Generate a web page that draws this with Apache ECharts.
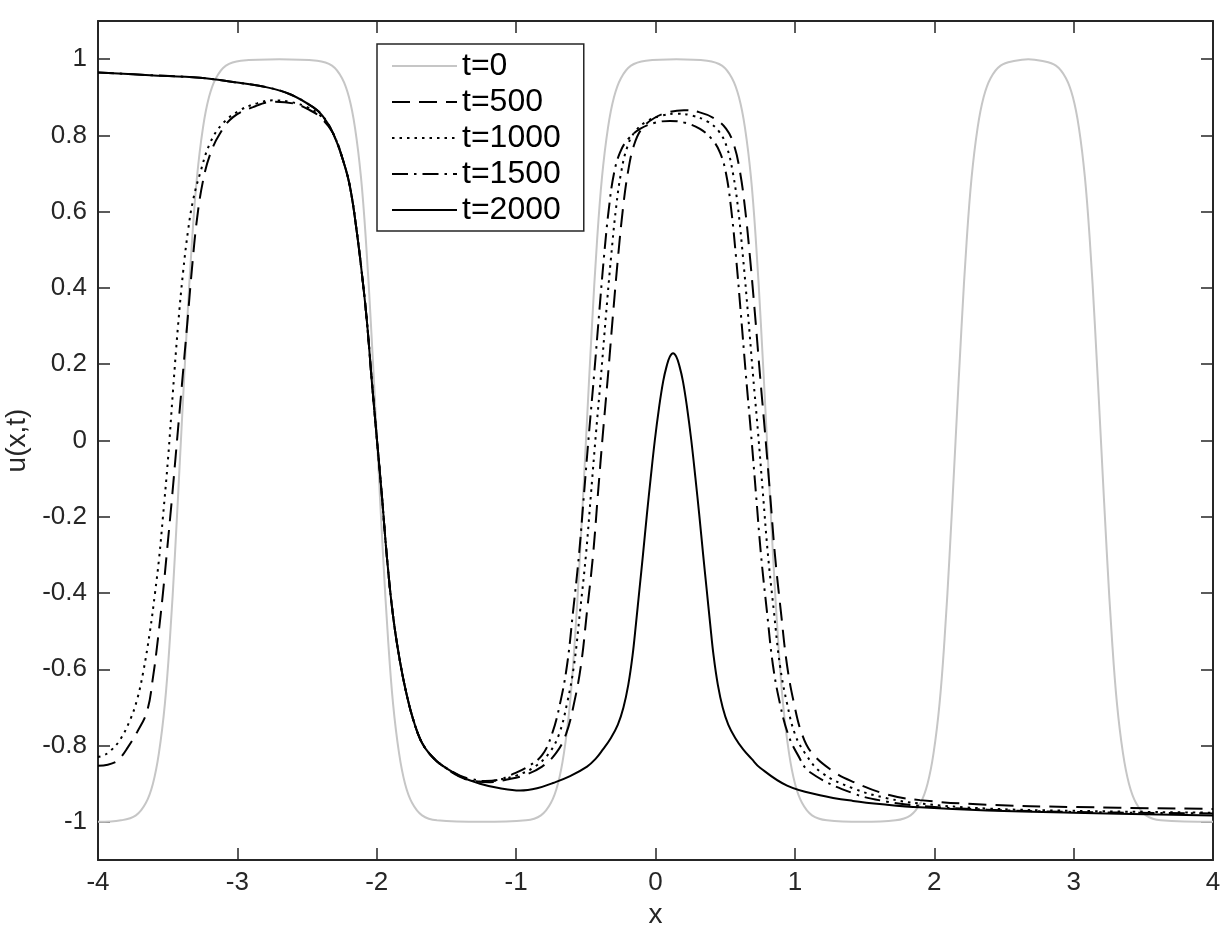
<!DOCTYPE html>
<html>
<head>
<meta charset="utf-8">
<title>u(x,t)</title>
<script src="https://cdn.jsdelivr.net/npm/echarts@6/dist/echarts.min.js"></script>
<style>
  html, body { margin: 0; padding: 0; background: #fff; }
  #chart { width: 1231px; height: 933px; }
</style>
</head>
<body>
<div id="chart"></div>
<script>
// tick labels
const yTicks = [-1, -0.8, -0.6, -0.4, -0.2, 0, 0.2, 0.4, 0.6, 0.8, 1];
const seriesNames = ['t=0', 't=500', 't=1000', 't=1500', 't=2000'];

// [x, u] points
const t0 = [
  [-4, -1], [-3.835, -0.996], [-3.728, -0.983], [-3.656, -0.95], [-3.606, -0.9], [-3.563, -0.82],
  [-3.52, -0.69], [-3.484, -0.52], [-3.448, -0.3], [-3.405, 0], [-3.362, 0.3], [-3.326, 0.52],
  [-3.29, 0.69], [-3.247, 0.82], [-3.204, 0.9], [-3.154, 0.95], [-3.082, 0.983], [-2.975, 0.996],
  [-2.7, 1], [-2.428, 0.996], [-2.321, 0.983], [-2.249, 0.95], [-2.199, 0.9], [-2.156, 0.82],
  [-2.113, 0.69], [-2.077, 0.52], [-2.041, 0.3], [-1.998, 0], [-1.955, -0.3], [-1.919, -0.52],
  [-1.883, -0.69], [-1.84, -0.82], [-1.797, -0.9], [-1.747, -0.95], [-1.675, -0.983], [-1.568, -0.996],
  [-1.25, -1], [-0.929, -0.996], [-0.822, -0.983], [-0.75, -0.95], [-0.7, -0.9], [-0.657, -0.82],
  [-0.614, -0.69], [-0.578, -0.52], [-0.542, -0.3], [-0.499, 0], [-0.456, 0.3], [-0.42, 0.52],
  [-0.384, 0.69], [-0.341, 0.82], [-0.298, 0.9], [-0.248, 0.95], [-0.176, 0.983], [-0.069, 0.996],
  [0.15, 1], [0.37, 0.996], [0.477, 0.983], [0.549, 0.95], [0.599, 0.9], [0.642, 0.82],
  [0.685, 0.69], [0.721, 0.52], [0.757, 0.3], [0.8, 0], [0.843, -0.3], [0.879, -0.52],
  [0.915, -0.69], [0.958, -0.82], [1.001, -0.9], [1.051, -0.95], [1.123, -0.983], [1.23, -0.996],
  [1.48, -1], [1.723, -0.996], [1.83, -0.983], [1.902, -0.95], [1.952, -0.9], [1.995, -0.82],
  [2.038, -0.69], [2.074, -0.52], [2.11, -0.3], [2.153, 0], [2.196, 0.3], [2.232, 0.52],
  [2.268, 0.69], [2.311, 0.82], [2.354, 0.9], [2.404, 0.95], [2.476, 0.983], [2.583, 0.996],
  [2.675, 1], [2.766, 0.996], [2.873, 0.983], [2.945, 0.95], [2.995, 0.9], [3.038, 0.82],
  [3.081, 0.69], [3.117, 0.52], [3.153, 0.3], [3.196, 0], [3.239, -0.3], [3.275, -0.52],
  [3.311, -0.69], [3.354, -0.82], [3.397, -0.9], [3.447, -0.95], [3.519, -0.983], [3.626, -0.996],
  [4, -1]
];

const t500 = [
  [-4, -0.853], [-3.93, -0.85], [-3.864, -0.841], [-3.83, -0.828], [-3.792, -0.808], [-3.72, -0.765],
  [-3.648, -0.71], [-3.605, -0.62], [-3.57, -0.52], [-3.534, -0.4], [-3.505, -0.29], [-3.469, -0.15],
  [-3.433, 0], [-3.397, 0.15], [-3.361, 0.3], [-3.326, 0.45], [-3.29, 0.58], [-3.247, 0.68],
  [-3.196, 0.75], [-3.125, 0.805], [-3.031, 0.848], [-2.888, 0.874], [-2.744, 0.888], [-2.601, 0.884],
  [-2.479, 0.866], [-2.407, 0.848], [-2.314, 0.806], [-2.242, 0.735], [-2.192, 0.665], [-2.142, 0.544],
  [-2.099, 0.413], [-2.07, 0.31], [-2.034, 0.15], [-1.998, 0], [-1.962, -0.15], [-1.926, -0.31],
  [-1.883, -0.46], [-1.833, -0.58], [-1.783, -0.67], [-1.74, -0.73], [-1.69, -0.782], [-1.65, -0.808],
  [-1.6, -0.83], [-1.546, -0.848], [-1.403, -0.882], [-1.295, -0.893], [-1.187, -0.896], [-1.066, -0.889],
  [-0.944, -0.878], [-0.814, -0.855], [-0.714, -0.82], [-0.642, -0.77], [-0.585, -0.69], [-0.535, -0.59],
  [-0.492, -0.45], [-0.448, -0.3], [-0.413, -0.14], [-0.377, 0.02], [-0.341, 0.17], [-0.305, 0.33],
  [-0.269, 0.48], [-0.233, 0.61], [-0.197, 0.705], [-0.154, 0.775], [-0.097, 0.818], [-0.011, 0.845],
  [0.097, 0.861], [0.2045, 0.866], [0.312, 0.861], [0.42, 0.845], [0.506, 0.818], [0.563, 0.775],
  [0.606, 0.705], [0.642, 0.61], [0.678, 0.48], [0.714, 0.33], [0.75, 0.17], [0.786, 0.02],
  [0.822, -0.14], [0.857, -0.3], [0.9, -0.45], [0.944, -0.59], [0.994, -0.69], [1.051, -0.77],
  [1.123, -0.82], [1.284, -0.87], [1.417, -0.895], [1.661, -0.928], [1.898, -0.943], [2.379, -0.955],
  [2.996, -0.961], [4, -0.966]
];

const t1000 = [
  [-4, -0.83], [-3.96, -0.826], [-3.914, -0.815], [-3.842, -0.785], [-3.77, -0.733], [-3.72, -0.68],
  [-3.677, -0.61], [-3.627, -0.5], [-3.591, -0.4], [-3.562, -0.31], [-3.534, -0.2], [-3.498, -0.05],
  [-3.462, 0.13], [-3.426, 0.3], [-3.39, 0.44], [-3.354, 0.55], [-3.318, 0.63], [-3.268, 0.7],
  [-3.196, 0.78], [-3.103, 0.832], [-2.981, 0.866], [-2.859, 0.884], [-2.744, 0.892], [-2.622, 0.888],
  [-2.5, 0.874], [-2.407, 0.853], [-2.314, 0.806], [-2.242, 0.735], [-2.192, 0.665], [-2.142, 0.544],
  [-2.099, 0.413], [-2.07, 0.31], [-2.034, 0.15], [-1.998, 0], [-1.962, -0.15], [-1.926, -0.31],
  [-1.883, -0.46], [-1.833, -0.58], [-1.783, -0.67], [-1.74, -0.73], [-1.69, -0.782], [-1.65, -0.808],
  [-1.6, -0.83], [-1.546, -0.848], [-1.403, -0.881], [-1.331, -0.891], [-1.223, -0.895], [-1.116, -0.889],
  [-0.994, -0.878], [-0.865, -0.855], [-0.764, -0.82], [-0.692, -0.77], [-0.635, -0.69], [-0.585, -0.59],
  [-0.542, -0.45], [-0.499, -0.3], [-0.463, -0.14], [-0.427, 0.02], [-0.391, 0.17], [-0.355, 0.33],
  [-0.319, 0.48], [-0.283, 0.61], [-0.248, 0.7], [-0.204, 0.768], [-0.147, 0.81], [-0.061, 0.837],
  [0.047, 0.852], [0.154, 0.857], [0.262, 0.852], [0.37, 0.837], [0.456, 0.81], [0.513, 0.768],
  [0.556, 0.7], [0.592, 0.61], [0.628, 0.48], [0.664, 0.33], [0.7, 0.17], [0.736, 0.02],
  [0.771, -0.14], [0.807, -0.3], [0.85, -0.45], [0.893, -0.59], [0.944, -0.69], [1.001, -0.77],
  [1.073, -0.82], [1.188, -0.87], [1.417, -0.912], [1.661, -0.938], [1.898, -0.952], [2.379, -0.965],
  [2.996, -0.971], [4, -0.976]
];

const t1500 = [
  [-4, 0.965], [-3.627, 0.958], [-3.268, 0.951], [-3.031, 0.94], [-2.787, 0.926], [-2.622, 0.908],
  [-2.457, 0.874], [-2.386, 0.85], [-2.314, 0.806], [-2.242, 0.735], [-2.192, 0.665], [-2.142, 0.544],
  [-2.099, 0.413], [-2.07, 0.31], [-2.034, 0.15], [-1.998, 0], [-1.962, -0.15], [-1.926, -0.31],
  [-1.883, -0.46], [-1.833, -0.58], [-1.783, -0.67], [-1.74, -0.73], [-1.69, -0.782], [-1.65, -0.808],
  [-1.6, -0.83], [-1.546, -0.848], [-1.403, -0.879], [-1.331, -0.887], [-1.223, -0.893], [-1.116, -0.889],
  [-1.044, -0.878], [-0.915, -0.855], [-0.814, -0.825], [-0.743, -0.77], [-0.685, -0.69], [-0.635, -0.59],
  [-0.592, -0.45], [-0.549, -0.3], [-0.513, -0.14], [-0.477, 0.02], [-0.441, 0.17], [-0.405, 0.33],
  [-0.37, 0.48], [-0.334, 0.61], [-0.298, 0.7], [-0.255, 0.755], [-0.197, 0.79], [-0.111, 0.817],
  [-0.004, 0.833], [0.104, 0.838], [0.212, 0.833], [0.319, 0.817], [0.405, 0.79], [0.463, 0.755],
  [0.506, 0.7], [0.542, 0.61], [0.578, 0.48], [0.613, 0.33], [0.649, 0.17], [0.685, 0.02],
  [0.721, -0.14], [0.757, -0.3], [0.8, -0.45], [0.843, -0.59], [0.893, -0.69], [0.951, -0.77],
  [1.022, -0.825], [1.109, -0.87], [1.417, -0.925], [1.661, -0.947], [1.898, -0.958], [2.379, -0.968],
  [2.996, -0.974], [4, -0.978]
];

const t2000 = [
  [-4, 0.965], [-3.627, 0.958], [-3.268, 0.951], [-3.031, 0.94], [-2.787, 0.926], [-2.622, 0.908],
  [-2.457, 0.874], [-2.386, 0.85], [-2.314, 0.806], [-2.242, 0.735], [-2.192, 0.665], [-2.142, 0.544],
  [-2.099, 0.413], [-2.07, 0.31], [-2.034, 0.15], [-1.998, 0], [-1.962, -0.15], [-1.926, -0.31],
  [-1.883, -0.46], [-1.833, -0.58], [-1.783, -0.67], [-1.74, -0.73], [-1.69, -0.782], [-1.65, -0.808],
  [-1.6, -0.83], [-1.546, -0.848], [-1.403, -0.88], [-1.259, -0.9], [-1.116, -0.912], [-0.972, -0.918],
  [-0.85, -0.912], [-0.735, -0.898], [-0.613, -0.88], [-0.491, -0.855], [-0.43, -0.835], [-0.377, -0.81],
  [-0.32, -0.78], [-0.27, -0.745], [-0.23, -0.7], [-0.195, -0.64], [-0.165, -0.565], [-0.14, -0.48],
  [-0.115, -0.39], [-0.09, -0.3], [-0.062, -0.195], [-0.035, -0.1], [-0.005, 0], [0.025, 0.085],
  [0.055, 0.155], [0.08, 0.195], [0.103, 0.22], [0.126, 0.229], [0.149, 0.22], [0.172, 0.195],
  [0.197, 0.155], [0.227, 0.085], [0.257, 0], [0.287, -0.1], [0.314, -0.195], [0.342, -0.3],
  [0.367, -0.39], [0.392, -0.48], [0.417, -0.565], [0.447, -0.64], [0.482, -0.7], [0.522, -0.745],
  [0.572, -0.78], [0.629, -0.81], [0.69, -0.835], [0.75, -0.858], [0.944, -0.905], [1.18, -0.93],
  [1.417, -0.945], [1.661, -0.955], [1.898, -0.962], [2.379, -0.97], [2.996, -0.976], [4, -0.983]
];

const FONT = "'Liberation Sans', Arial, Helvetica, sans-serif";
const AX = '#262626';

const chart = echarts.init(document.getElementById('chart'), null, { renderer: 'canvas' });

function frameAxis(extra) {
  return Object.assign({
    type: 'value',
    axisLine: { show: true, onZero: false, lineStyle: { color: AX, width: 2 } },
    axisTick: { show: true, inside: true, length: 12, lineStyle: { color: AX, width: 1.5 } },
    splitLine: { show: false },
  }, extra);
}

const labelStyle = { fontSize: 26, color: AX, fontFamily: FONT };
const nameStyle = { fontSize: 28, color: AX, fontFamily: FONT };

function line(name, data, color, dash, width) {
  return {
    name,
    type: 'line',
    data,
    showSymbol: false,
    symbol: 'none',
    smooth: 0.4,
    lineStyle: { color, width, type: dash },
    itemStyle: { color },
    emphasis: { disabled: true },
  };
}

chart.setOption({
  animation: false,
  backgroundColor: '#fff',
  textStyle: { fontFamily: FONT },
  grid: { left: 98, right: 18, top: 21, bottom: 73, containLabel: false, outerBoundsMode: 'none' },
  legend: {
    orient: 'vertical',
    left: 377,
    top: 44,
    itemWidth: 65,
    itemHeight: 20,
    itemGap: 4,
    padding: [6, 23, 5, 14],
    borderColor: AX,
    borderWidth: 1.5,
    backgroundColor: '#fff',
    itemStyle: { opacity: 0 },
    textStyle: { fontSize: 32, color: '#000', fontFamily: FONT },
    data: seriesNames,
  },
  xAxis: [
    frameAxis({
      min: -4, max: 4, interval: 1, position: 'bottom',
      axisLabel: Object.assign({ margin: 10 }, labelStyle),
      name: 'x', nameLocation: 'middle', nameGap: 38,
      nameTextStyle: nameStyle,
    }),
    frameAxis({ min: -4, max: 4, interval: 1, position: 'top', axisLabel: { show: false } }),
  ],
  yAxis: [
    frameAxis({
      min: -1.1, max: 1.1, position: 'left',
      axisTick: { show: true, inside: true, length: 12, customValues: yTicks, lineStyle: { color: AX, width: 1.5 } },
      axisLabel: Object.assign({ margin: 11, customValues: yTicks }, labelStyle),
      name: 'u(x,t)', nameLocation: 'middle', nameGap: 65,
      nameTextStyle: nameStyle,
    }),
    frameAxis({
      min: -1.1, max: 1.1, position: 'right',
      axisTick: { show: true, inside: true, length: 12, customValues: yTicks, lineStyle: { color: AX, width: 1.5 } },
      axisLabel: { show: false },
    }),
  ],
  series: [
    line('t=0', t0, '#c6c6c6', 'solid', 2),
    line('t=500', t500, '#000', [18, 9], 2),
    line('t=1000', t1000, '#000', [2.5, 5], 2),
    line('t=1500', t1500, '#000', [16, 6, 2.5, 6], 2),
    line('t=2000', t2000, '#000', 'solid', 2),
  ],
});
</script>
</body>
</html>
